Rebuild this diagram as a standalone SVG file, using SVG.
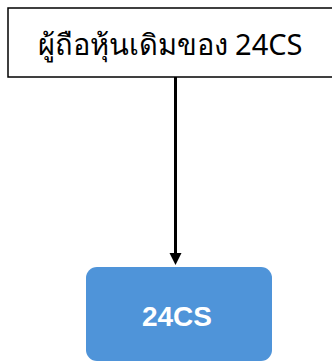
<svg xmlns="http://www.w3.org/2000/svg" width="332" height="362" viewBox="0 0 332 362">
<style>
.box{fill:#ffffff;stroke:#000000;stroke-width:1.5}
.blue{fill:#4F94D9;stroke:none}
.t1{font-family:"Noto Sans","Liberation Sans",sans-serif;font-size:29px;fill:#000000}
.t2{font-family:"Liberation Sans",Arial,sans-serif;font-size:28px;font-weight:bold;fill:#ffffff}
.conn{stroke:#000000;stroke-width:3;fill:none}
</style>
<g id="connectors">
<line class="conn" x1="175.5" y1="77" x2="175.5" y2="254"/>
<path d="M169.5,253 L181.5,253 L175.5,265 Z" fill="#000000"/>
</g>
<g id="node-shareholders">
<rect class="box" x="8" y="8" width="330" height="69"/>
<text class="t1" x="170" y="55" text-anchor="middle">ผู้ถือหุ้นเดิมของ 24CS</text>
</g>
<g id="node-24cs">
<rect class="blue" x="86" y="267" width="186" height="94" rx="11" ry="11"/>
<text class="t2" x="177" y="326" text-anchor="middle">24CS</text>
</g>
</svg>
